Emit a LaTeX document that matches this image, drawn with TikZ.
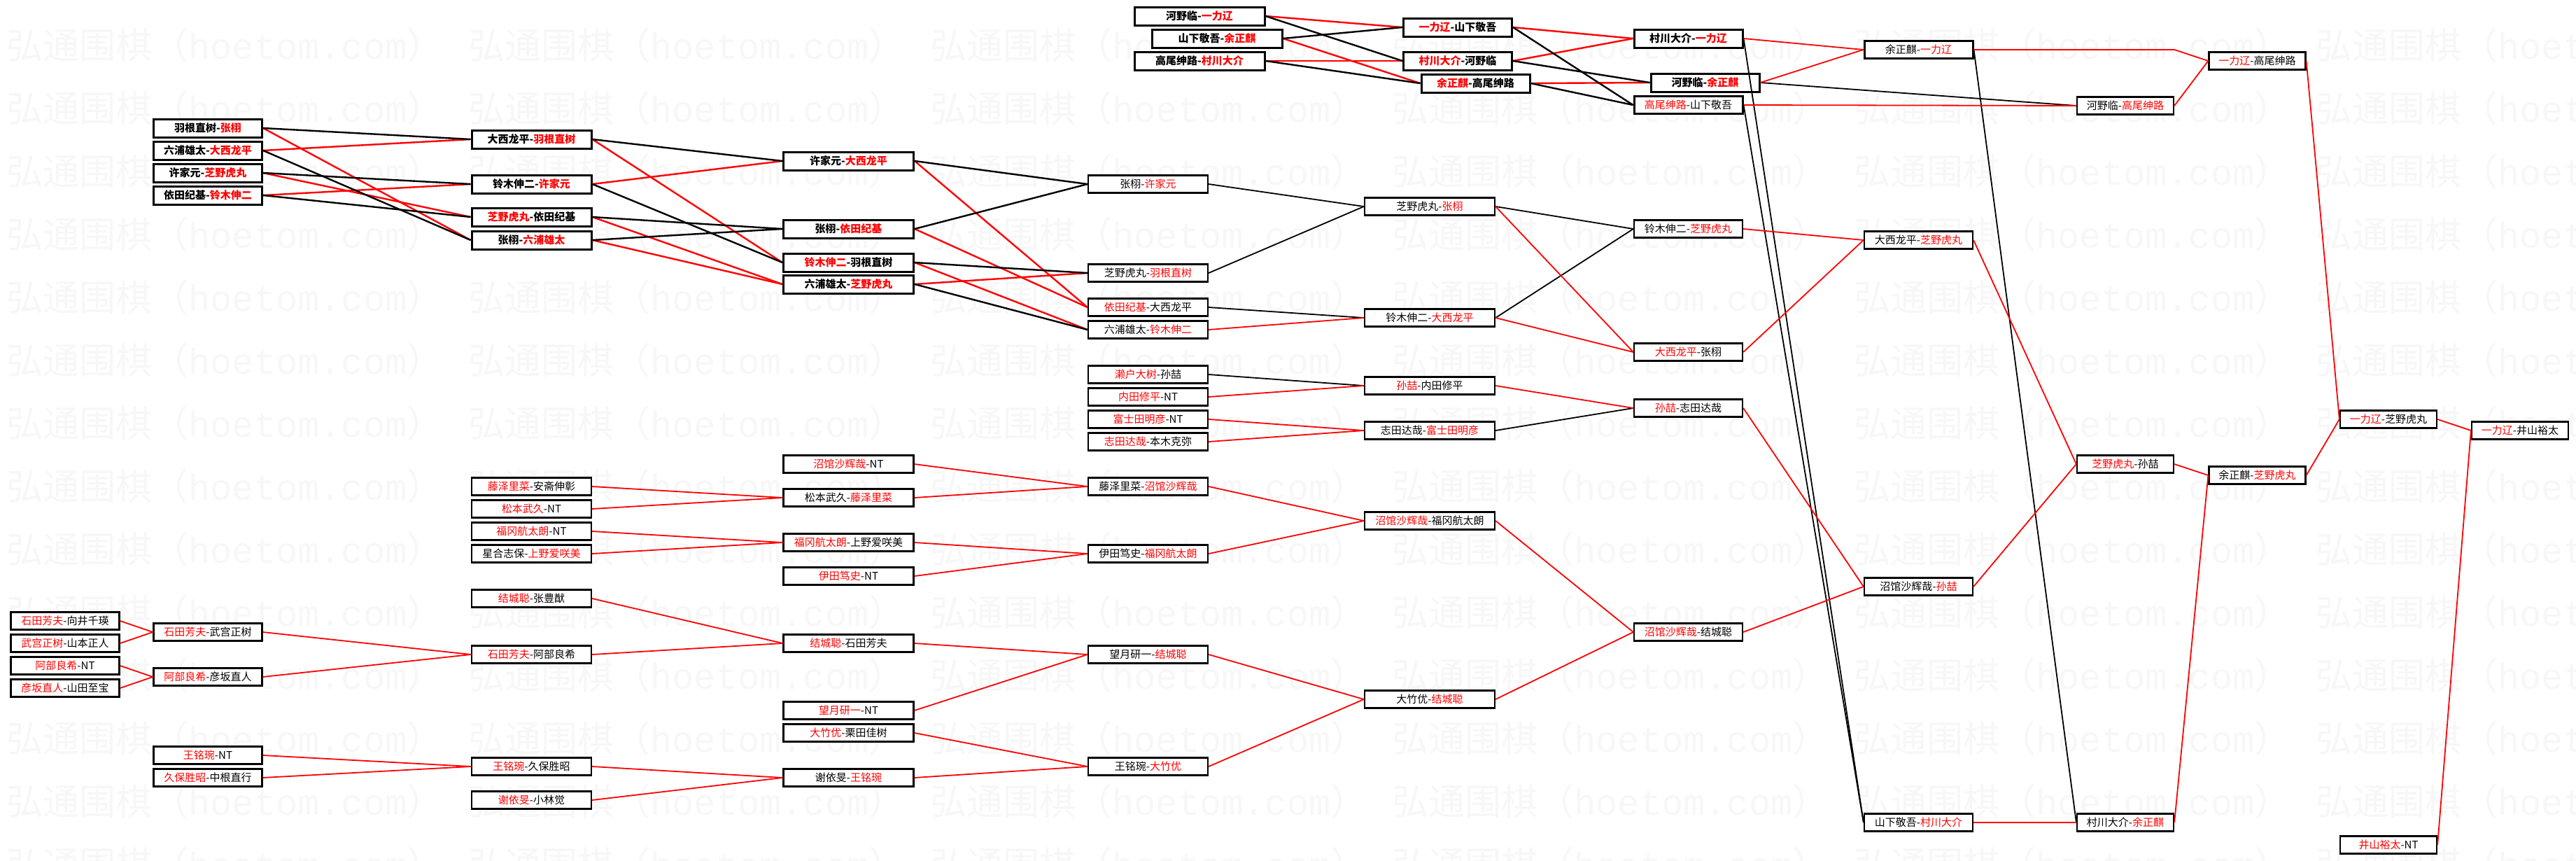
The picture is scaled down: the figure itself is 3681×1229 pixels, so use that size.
\documentclass[tikz,border=0pt]{standalone}
\usepackage{fontspec}
\setmainfont{Noto Sans CJK SC}
\newfontfamily\wmfont{Liberation Mono}
\newcommand{\winA}[2]{\textcolor{red}{#1}-#2}
\newcommand{\winB}[2]{#1-\textcolor{red}{#2}}
\tikzset{
	match/.style={draw, fill=white, line width=2.2pt, inner sep=0pt, minimum height=25pt, font=\fontsize{15}{15}\selectfont},
	bigmatch/.style={match, line width=3pt, minimum height=26pt, font=\fontsize{15}{15}\selectfont\bfseries},
	narrow/.style={minimum width=138pt},
	small/.style={minimum width=155pt},
	mid/.style={minimum width=171pt},
	wide/.style={minimum width=186pt},
	win/.style={red, line width=1.8pt},
	lose/.style={black, line width=1.8pt},
	winT/.style={red, line width=2.4pt},
	loseT/.style={black, line width=2.4pt},
	mark text/.style={anchor=west, text=black!3, font=\fontsize{52}{52}\selectfont}
}
\begin{document}
\begin{tikzpicture}[x=1pt, y=-1pt]
	\fill[white] (0,0) rectangle (3681,1229);
	\useasboundingbox (0,0) rectangle (3681,1229);
	\foreach \i in {0,...,5}{
		\foreach \k in {0,...,13}{
			\node[mark text] at (6+660*\i, 65+90*\k) {弘通围棋（{\wmfont hoetom.com}）};
		}
	}
	% top left
	\node[bigmatch, small] (A1) at (297,183) {\winB{羽根直树}{张栩}};
	\node[bigmatch, small] (A2) at (297,215) {\winB{六浦雄太}{大西龙平}};
	\node[bigmatch, small] (A3) at (297,247) {\winB{许家元}{芝野虎丸}};
	\node[bigmatch, small] (A4) at (297,279) {\winB{依田纪基}{铃木伸二}};
	\node[bigmatch, mid] (B1) at (759.5,199) {\winB{大西龙平}{羽根直树}};
	\node[bigmatch, mid] (B2) at (759.5,263) {\winB{铃木伸二}{许家元}};
	\node[bigmatch, mid] (B3) at (759.5,310) {\winA{芝野虎丸}{依田纪基}};
	\node[bigmatch, mid] (B4) at (759.5,343) {\winB{张栩}{六浦雄太}};
	\node[bigmatch, wide] (C1) at (1212.5,230) {\winB{许家元}{大西龙平}};
	\node[bigmatch, wide] (C2) at (1212.5,327) {\winB{张栩}{依田纪基}};
	\node[bigmatch, wide] (C3) at (1212.5,375) {\winA{铃木伸二}{羽根直树}};
	\node[bigmatch, wide] (C4) at (1212.5,406) {\winB{六浦雄太}{芝野虎丸}};
	\node[match, mid] (D1) at (1640.5,263) {\winB{张栩}{许家元}};
	\node[match, mid] (D2) at (1640.5,390) {\winB{芝野虎丸}{羽根直树}};
	\node[match, mid] (D3) at (1640.5,439) {\winA{依田纪基}{大西龙平}};
	\node[match, mid] (D4) at (1640.5,471) {\winB{六浦雄太}{铃木伸二}};
	\node[match, mid] (D5) at (1640.5,535) {\winA{濑户大树}{孙喆}};
	\node[match, mid] (D6) at (1640.5,567) {\winA{内田修平}{NT}};
	\node[match, mid] (D7) at (1640.5,599) {\winA{富士田明彦}{NT}};
	\node[match, mid] (D8) at (1640.5,631) {\winA{志田达哉}{本木克弥}};
	% top right
	\node[bigmatch, wide] (T1) at (1714,23) {\winB{河野临}{一力辽}};
	\node[bigmatch, wide] (T2) at (1739,55) {\winB{山下敬吾}{余正麒}};
	\node[bigmatch, wide] (T3) at (1714,87) {\winB{高尾绅路}{村川大介}};
	\node[bigmatch, small] (E1) at (2083,39) {\winA{一力辽}{山下敬吾}};
	\node[bigmatch, small] (E2) at (2083,87) {\winA{村川大介}{河野临}};
	\node[bigmatch, small] (E3) at (2108.5,119) {\winA{余正麒}{高尾绅路}};
	\node[bigmatch, small] (F1) at (2412.5,55) {\winB{村川大介}{一力辽}};
	\node[bigmatch, small] (F2) at (2436.5,118) {\winB{河野临}{余正麒}};
	\node[match, small, line width=3pt] (F3) at (2412.5,150) {\winA{高尾绅路}{山下敬吾}};
	\node[match, small, line width=3pt] (G1) at (2741.5,71) {\winB{余正麒}{一力辽}};
	\node[match, narrow] (H1) at (3037,151) {\winB{河野临}{高尾绅路}};
	\node[match, narrow] (I1) at (3225.5,87) {\winA{一力辽}{高尾绅路}};
	% middle
	\node[match, wide] (E4) at (2043,295) {\winB{芝野虎丸}{张栩}};
	\node[match, wide] (E5) at (2043,454) {\winB{铃木伸二}{大西龙平}};
	\node[match, wide] (E6) at (2043,551) {\winA{孙喆}{内田修平}};
	\node[match, wide] (E7) at (2043,615) {\winB{志田达哉}{富士田明彦}};
	\node[match, wide] (E8) at (2043,744) {\winA{沼馆沙辉哉}{福冈航太朗}};
	\node[match, wide] (E9) at (2043,999) {\winB{大竹优}{结城聪}};
	\node[match, small] (F4) at (2412.5,327) {\winB{铃木伸二}{芝野虎丸}};
	\node[match, small] (F5) at (2412.5,503) {\winA{大西龙平}{张栩}};
	\node[match, small] (F6) at (2412.5,583) {\winA{孙喆}{志田达哉}};
	\node[match, small] (F7) at (2412.5,903) {\winA{沼馆沙辉哉}{结城聪}};
	\node[match, small] (G2) at (2741.5,343) {\winB{大西龙平}{芝野虎丸}};
	\node[match, small] (G3) at (2741.5,838) {\winB{沼馆沙辉哉}{孙喆}};
	\node[match, small] (G4) at (2741.5,1175) {\winB{山下敬吾}{村川大介}};
	\node[match, narrow] (H2) at (3037,663) {\winA{芝野虎丸}{孙喆}};
	\node[match, narrow] (H3) at (3037,1175) {\winB{村川大介}{余正麒}};
	\node[match, narrow] (L1) at (3225.5,679) {\winB{余正麒}{芝野虎丸}};
	\node[match, narrow] (J1) at (3413,599) {\winA{一力辽}{芝野虎丸}};
	\node[match, narrow] (K2) at (3413,1207) {\winA{井山裕太}{NT}};
	\node[match, narrow] (K1) at (3601,615) {\winA{一力辽}{井山裕太}};
	% bottom left
	\node[match, small] (P1) at (93,887) {\winA{石田芳夫}{向井千瑛}};
	\node[match, small] (P2) at (93,919) {\winA{武宫正树}{山本正人}};
	\node[match, small] (P3) at (93,951) {\winA{阿部良希}{NT}};
	\node[match, small] (P4) at (93,983) {\winA{彦坂直人}{山田至宝}};
	\node[match, small] (Q1) at (297,903) {\winA{石田芳夫}{武宫正树}};
	\node[match, small] (Q2) at (297,967) {\winA{阿部良希}{彦坂直人}};
	\node[match, small] (Q3) at (297,1079) {\winA{王铭琬}{NT}};
	\node[match, small] (Q4) at (297,1111) {\winA{久保胜昭}{中根直行}};
	\node[match, mid] (R1) at (759.5,695) {\winA{藤泽里菜}{安斋伸彰}};
	\node[match, mid] (R2) at (759.5,727) {\winA{松本武久}{NT}};
	\node[match, mid] (R3) at (759.5,759) {\winA{福冈航太朗}{NT}};
	\node[match, mid] (R4) at (759.5,791) {\winB{星合志保}{上野爱咲美}};
	\node[match, mid] (R5) at (759.5,855) {\winA{结城聪}{张豊猷}};
	\node[match, mid] (R6) at (759.5,935) {\winA{石田芳夫}{阿部良希}};
	\node[match, mid] (R7) at (759.5,1095) {\winA{王铭琬}{久保胜昭}};
	\node[match, mid] (R8) at (759.5,1143) {\winA{谢依旻}{小林觉}};
	\node[match, wide] (S1) at (1212.5,663) {\winA{沼馆沙辉哉}{NT}};
	\node[match, wide] (S2) at (1212.5,711) {\winB{松本武久}{藤泽里菜}};
	\node[match, wide] (S3) at (1212.5,775) {\winA{福冈航太朗}{上野爱咲美}};
	\node[match, wide] (S4) at (1212.5,823) {\winA{伊田笃史}{NT}};
	\node[match, wide] (S5) at (1212.5,919) {\winA{结城聪}{石田芳夫}};
	\node[match, wide] (S6) at (1212.5,1015) {\winA{望月研一}{NT}};
	\node[match, wide] (S7) at (1212.5,1047) {\winA{大竹优}{栗田佳树}};
	\node[match, wide] (S8) at (1212.5,1111) {\winB{谢依旻}{王铭琬}};
	\node[match, mid] (U1) at (1640.5,695) {\winB{藤泽里菜}{沼馆沙辉哉}};
	\node[match, mid] (U2) at (1640.5,791) {\winB{伊田笃史}{福冈航太朗}};
	\node[match, mid] (U3) at (1640.5,935) {\winB{望月研一}{结城聪}};
	\node[match, mid] (U4) at (1640.5,1095) {\winB{王铭琬}{大竹优}};
	% connectors
	\foreach \a/\b in {A1/B4,A2/B1,A3/B3,A4/B2,B1/C3,B2/C1,B3/C4,B4/C4,C1/D3,C2/D3,C3/D4,C4/D2,T1/E1,T2/E3,T3/E2,E1/F1,E2/F1,E3/F2}
		\draw[winT] (\a.east) -- (\b.west);
	\foreach \a/\b in {A1/B1,A2/B4,A3/B2,A4/B3,B1/C1,B2/C3,B3/C2,B4/C2,C1/D1,C2/D1,C3/D2,C4/D4,T1/E2,T2/E1,T3/E3,E1/F3,E2/F2,E3/F3}
		\draw[loseT] (\a.east) -- (\b.west);
	\foreach \a/\b in {D1/E4,D2/E4,D3/E5,D5/E6,E4/F4,E5/F4,E7/F6,F1/G4,F3/G4,F2/H1,G1/H3}
		\draw[lose] (\a.east) -- (\b.west);
	\foreach \a/\b in {D4/E5,D6/E6,D7/E7,D8/E7,E4/F5,E5/F5,E6/F6,F1/G1,F2/G1,F3/H1,F4/G2,F5/G2,F6/G3,F7/G3,G2/H2,G3/H2,G4/H3,H1/I1,H2/L1,H3/L1,I1/J1,L1/J1,J1/K1,K2/K1,E8/F7,E9/F7}
		\draw[win] (\a.east) -- (\b.west);
	\draw[win] (G1.east) -- (H1.east |- G1.east) -- (I1.west);
	\foreach \a/\b in {P1/Q1,P2/Q1,P3/Q2,P4/Q2,Q1/R6,Q2/R6,Q3/R7,Q4/R7,R1/S2,R2/S2,R3/S3,R4/S3,R5/S5,R6/S5,R7/S8,R8/S8,S1/U1,S2/U1,S3/U2,S4/U2,S5/U3,S6/U3,S7/U4,S8/U4,U1/E8,U2/E8,U3/E9,U4/E9}
		\draw[win] (\a.east) -- (\b.west);
\end{tikzpicture}
\end{document}
